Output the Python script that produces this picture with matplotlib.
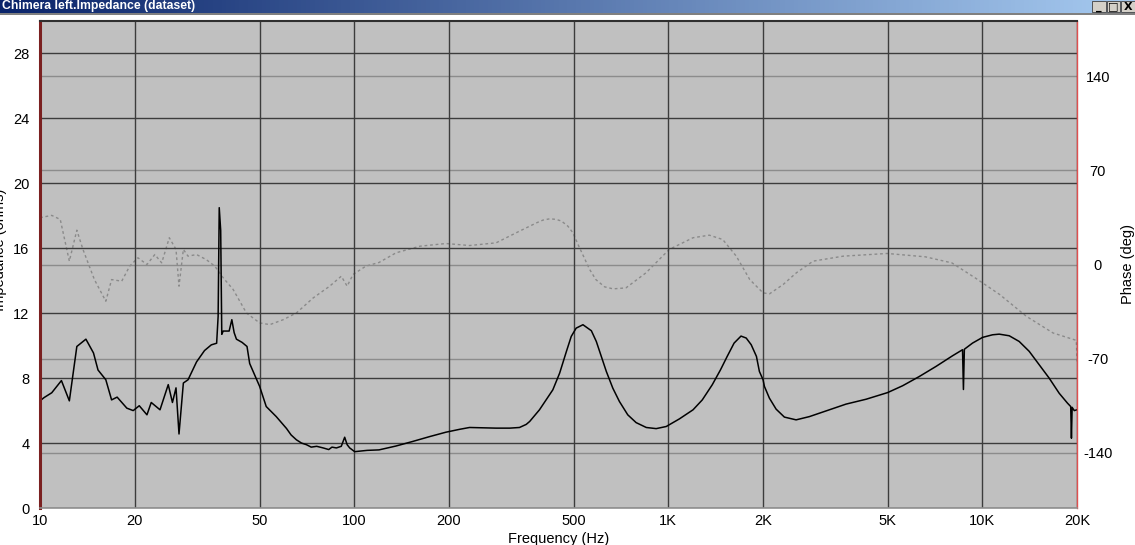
import numpy as np
import matplotlib
matplotlib.use("Agg")
import matplotlib.pyplot as plt
from matplotlib.patches import Rectangle
from matplotlib.colors import LinearSegmentedColormap

plt.rcParams['axes.unicode_minus'] = False

# ---------------- data ----------------
imp_f = [10, 10.3, 10.9, 11.7, 12.4, 13.1, 14.0, 14.8, 15.3, 16.2, 16.9, 17.6, 18.9, 19.8,
         20.7, 21.9, 22.6, 24.1, 25.6, 26.4, 27.1, 27.7, 28.6, 29.6, 31.5, 33.4, 35.1, 36.5,
         36.9, 37.2, 37.6, 37.9, 38.3, 40.0, 40.8, 41.5, 42.2, 44.0, 45.6, 46.5, 50, 52.5,
         56.5, 60.9, 63, 65.5, 68, 70.5, 73, 76, 79.7, 83, 85, 87.8, 91, 93.3, 95, 96.8,
         100.4, 110, 120, 136, 153, 174, 196, 217, 233, 283, 313, 336, 353, 362, 389,
         429, 451, 474, 491, 509, 535, 569, 590, 612, 635, 666, 699, 743, 790, 851, 915,
         985, 1085, 1199, 1283, 1380, 1466, 1540, 1620, 1704, 1770, 1836, 1908, 1950,
         2003, 2023, 2098, 2204, 2342, 2552, 2813, 3180, 3680, 4262, 4991, 5570, 6295,
         7114, 8036, 8643, 8700, 8760, 9302, 10010, 10770, 11310, 12170, 13090, 14090,
         15160, 16310, 17550, 18650, 19100, 19200, 19300, 19600, 20000]
imp_z = [6.6, 6.8, 7.1, 7.85, 6.6, 9.95, 10.4, 9.55, 8.5, 7.9, 6.66, 6.83, 6.15, 6.0,
         6.3, 5.74, 6.5, 6.05, 7.6, 6.5, 7.4, 4.56, 7.7, 7.9, 9.0, 9.7, 10.05, 10.15,
         11.8, 18.5, 17.1, 10.7, 10.9, 10.9, 11.6, 10.8, 10.4, 10.2, 9.95, 8.9, 7.5, 6.25,
         5.63, 4.9, 4.5, 4.2, 4.0, 3.9, 3.75, 3.8, 3.7, 3.6, 3.75, 3.7, 3.8, 4.36, 3.9, 3.7,
         3.47, 3.55, 3.58, 3.82, 4.09, 4.4, 4.67, 4.85, 4.96, 4.92, 4.92, 4.96, 5.15, 5.33,
         6.05, 7.28, 8.31, 9.65, 10.57, 11.08, 11.29, 10.92, 10.26, 9.34, 8.41, 7.38, 6.56,
         5.74, 5.26, 4.96, 4.89, 5.02, 5.49, 6.05, 6.66, 7.59, 8.51, 9.34, 10.16, 10.59,
         10.47, 10.06, 9.34, 8.41, 7.9, 7.49, 6.77, 6.09, 5.6, 5.43, 5.63, 5.98, 6.4, 6.7,
         7.11, 7.53, 8.1, 8.72, 9.38, 9.75, 7.3, 9.78, 10.16, 10.51, 10.67, 10.71, 10.61,
         10.26, 9.65, 8.82, 8.0, 7.07, 6.46, 6.25, 4.3, 6.2, 6.0, 6.05]

ph_f = [10, 10.9, 11.6, 12.4, 13.1, 13.7, 14.9, 16.2, 16.9, 18.2, 19.3, 20.5, 21.9, 23.2,
        24.4, 25.8, 27.1, 27.7, 28.6, 29.6, 31.5, 33.8, 36.0, 38.3, 41.2, 45.4, 50, 53.9,
        59.5, 65.5, 74.1, 83.6, 91.0, 95, 99.2, 109, 120, 136, 162, 196, 233, 283, 336,
        381, 399, 420, 440, 457, 479, 497, 516, 537, 562, 588, 627, 667, 733, 849, 1007,
        1199, 1351, 1490, 1646, 1817, 2003, 2100, 2320, 2556, 2891, 3605, 4975, 6583,
        7993, 9474, 11346, 13795, 16780, 19900, 20000]
ph_deg = [34.8, 36.5, 33.5, 2.5, 25.5, 11.2, -11.2, -27.3, -11.2, -12.4, -1.2, 5.0, 0.0,
          7.4, 1.2, 19.9, 11.2, -16.1, 11.2, 6.2, 7.4, 3.7, -1.2, -9.9, -18.6, -36.0,
          -43.4, -44.7, -41.0, -36.0, -24.8, -16.1, -8.7, -16.1, -7.4, -1.2, 1.5, 8.7,
          13.6, 15.6, 14.1, 16.1, 24.8, 31.0, 33.0, 34.0, 33.5, 32.3, 28.5, 23.6, 14.9,
          6.2, -3.7, -11.2, -16.6, -18.1, -17.4, -6.2, 11.2, 19.9, 21.8, 18.6, 6.2, -11.2,
          -21.1, -21.8, -14.9, -6.2, 2.5, 6.2, 8.2, 5.7, 1.2, -9.9, -22.3, -38.5, -50.9,
          -56.4, -72.0]

x_ticks = [10, 20, 50, 100, 200, 500, 1000, 2000, 5000, 10000, 20000]
x_labels = ['10', '20', '50', '100', '200', '500', '1K', '2K', '5K', '10K', '20K']
z_ticks = [0, 4, 8, 12, 16, 20, 24, 28]
ph_ticks = [-140, -70, 0, 70, 140]

title_text = "Chimera left.Impedance (dataset)"

# ---------------- figure ----------------
W, H = 1135, 545
fig = plt.figure(figsize=(W / 100, H / 100), dpi=100, facecolor='white')
lab_font = ['Liberation Sans Narrow', 'Liberation Sans', 'DejaVu Sans']

def fx(px):
    return px / W

def fy(py):
    return 1 - py / H

left_px, right_px, top_px, bot_px = 40, 1077, 21, 508
rect = [fx(left_px), fy(bot_px), fx(right_px) - fx(left_px), fy(top_px) - fy(bot_px)]

ax2 = fig.add_axes(rect)             # phase axis (behind)
ax = fig.add_axes(rect, sharex=ax2)  # impedance axis (front)
ax.set_zorder(ax2.get_zorder() + 1)
ax.patch.set_visible(False)
ax2.set_facecolor('#C0C0C0')

ax2.set_xscale('log')
ax2.set_xlim(10, 20000)
ax.set_ylim(0, 30)
ax2.set_ylim(-181, 181)

# phase
ax2.plot(ph_f, ph_deg, color='#8a8a8a', lw=1.0, ls=(0, (2, 2)))
ax2.set_yticks(ph_ticks)
ax2.yaxis.tick_right()
ax2.yaxis.set_label_position('right')
ax2.grid(axis='y', color='#8c8c8c', lw=1.0)
ax2.grid(axis='x', visible=False)
ax2.tick_params(axis='y', length=0, pad=15, labelsize=10.5, labelcolor='black')
for t in ax2.get_yticklabels():
    t.set_horizontalalignment('center')
    t.set_family(lab_font)
ax2.tick_params(axis='x', which='both', length=0, labelbottom=False)
for s in ax2.spines.values():
    s.set_visible(False)
ax2.set_ylabel('Phase (deg)', family=lab_font, fontsize=10.5, labelpad=6)

# impedance
ax.plot(imp_f, imp_z, color='black', lw=1.1)
ax.set_yticks(z_ticks)
ax.set_xticks(x_ticks)
ax.set_xticklabels(x_labels)
ax.xaxis.set_minor_locator(matplotlib.ticker.NullLocator())
ax2.xaxis.set_minor_locator(matplotlib.ticker.NullLocator())
ax.grid(True, color='#3c3c3c', lw=1.0)
ax.tick_params(axis='both', which='both', length=0, labelsize=10.5)
ax.tick_params(axis='y', pad=7.5)
ax.tick_params(axis='x', pad=4)
for t in ax.get_xticklabels() + ax.get_yticklabels():
    t.set_family(lab_font)
ax.spines['left'].set_color('#7a2020')
ax.spines['left'].set_linewidth(2.2)
ax.spines['right'].set_color('#e05050')
ax.spines['right'].set_linewidth(1.0)
ax.spines['top'].set_color('#303030')
ax.spines['top'].set_linewidth(1.5)
ax.spines['bottom'].set_color('#909090')
ax.spines['bottom'].set_linewidth(1.2)
ax.set_xlabel('Frequency (Hz)', family=lab_font, fontsize=10.5, labelpad=3)

fig.text(fx(0), fy(250), 'Impedance (ohms)', rotation=90, ha='center', va='center',
         family=lab_font, fontsize=10.5)

# ---------------- title bar ----------------
tb_h = 13
tax = fig.add_axes([0, fy(tb_h), 1, tb_h / H])
cmap = LinearSegmentedColormap.from_list('tb', ['#0a246a', '#a6caf0'])
tax.imshow(np.linspace(0, 1, 256)[None, :], aspect='auto', cmap=cmap,
           extent=[0, 1, 0, 1])
tax.set_xlim(0, 1)
tax.set_ylim(0, 1)
tax.axis('off')
fig.text(fx(2), fy(6.5), title_text, color='white', fontweight='bold',
         family=['Liberation Sans', 'DejaVu Sans'], fontsize=8.8, ha='left', va='center')
fig.add_artist(Rectangle((0, fy(15)), 1, 2 / H, transform=fig.transFigure,
                         facecolor='#808080', edgecolor='none'))
for i, sym in enumerate(['_', '\u25a1', 'X']):
    x0 = 1092 + i * 14.5
    fig.add_artist(Rectangle((fx(x0), fy(12)), 13.5 / W, 11 / H, transform=fig.transFigure,
                             facecolor='#d4d0c8', edgecolor='#404040', lw=0.6))
    fig.text(fx(x0 + 6.7), fy(6.5), sym, ha='center', va='center', fontsize=8,
             fontweight='bold', color='black', family=['DejaVu Sans'])

fig.savefig('out.png', dpi=100, facecolor='white')
